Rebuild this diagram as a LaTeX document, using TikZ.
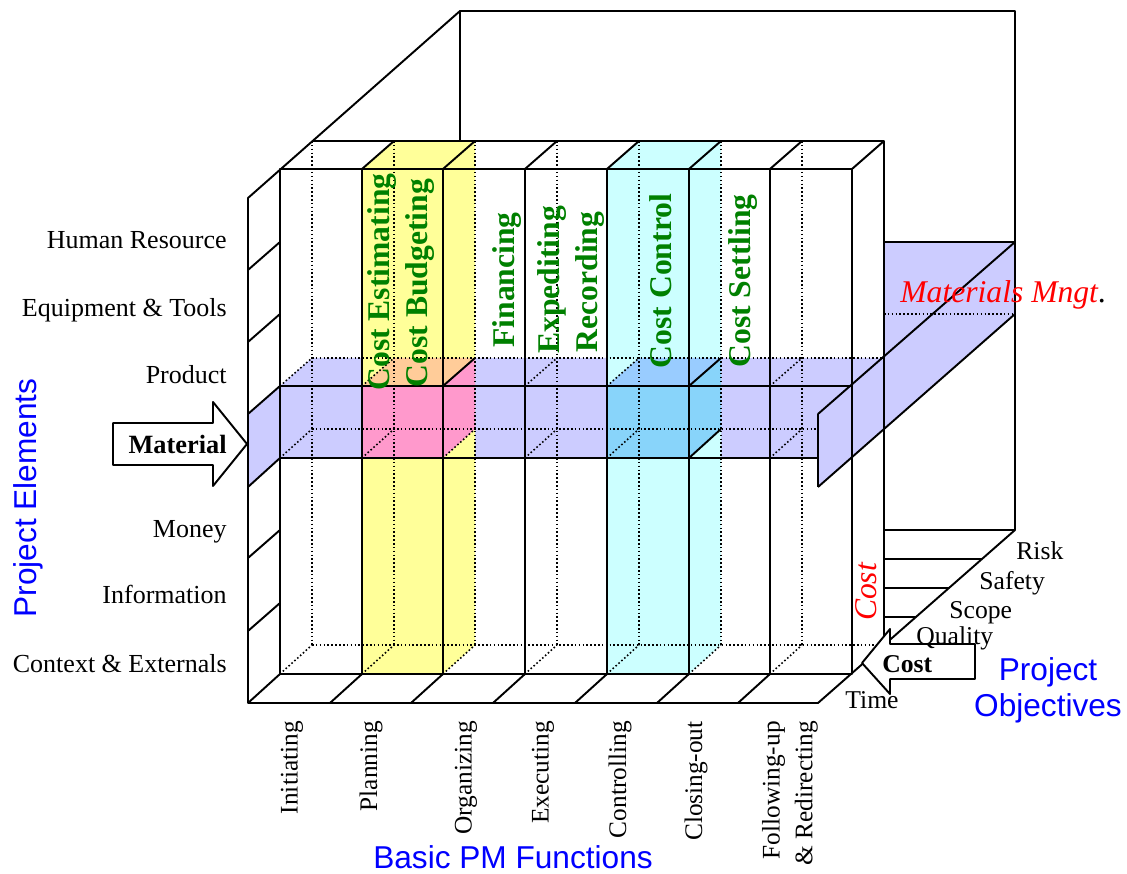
\documentclass[tikz,border=0pt]{standalone}
\usepackage{fontspec}
\setmainfont{Liberation Serif}
\newfontfamily\arialfont{Liberation Sans}
\usetikzlibrary{positioning}

\definecolor{bandlilac}{HTML}{CCCCFF}
\definecolor{planyellow}{HTML}{FFFF99}
\definecolor{ctrlcyan}{HTML}{CCFFFF}
\definecolor{hitpink}{HTML}{FF99CC}
\definecolor{hitpeach}{HTML}{FFCC99}
\definecolor{hitblue}{HTML}{88D4FA}
\definecolor{hittop}{HTML}{99CCFF}
\definecolor{pmgreen}{HTML}{008000}

\tikzset{
  boxline/.style={line width=1.1pt},
  hidden/.style={line width=0.9pt, dash pattern=on 0.9pt off 1.3pt},
  elem/.style={anchor=base east, inner sep=0pt, font=\fontsize{14.8}{17}\selectfont},
  func/.style={rotate=90, anchor=east, inner sep=0pt, font=\fontsize{14.4}{18.7}\selectfont},
  obj/.style={anchor=base west, inner sep=0pt, font=\fontsize{14.6}{17}\selectfont},
  task/.style={rotate=90, anchor=base, inner sep=0pt, text=pmgreen, font=\fontsize{18}{20}\selectfont\bfseries},
  axis/.style={text=blue, inner sep=0pt, font=\arialfont\fontsize{18}{20.5}\selectfont},
  bigarrow/.style={boxline, fill=white}
}

\begin{document}
\begin{tikzpicture}[x=0.02cm, y=-0.02cm, line join=round]
\useasboundingbox (0,0) rectangle (1127,874);

\fill[bandlilac] (280,386) -- (312,358) -- (884,358) -- (852,386) -- (852,458) -- (280,458) -- cycle;
\fill[bandlilac] (248,414) -- (280,386) -- (280,458) -- (248,487) -- cycle;
\fill[planyellow] (362,169) -- (394,141) -- (475,141) -- (475,645) -- (443,674) -- (362,674) -- cycle;
\fill[ctrlcyan] (607,169) -- (639,141) -- (721,141) -- (721,645) -- (689,674) -- (607,674) -- cycle;
\fill[hitpink] (362,386) rectangle (443,458);
\fill[hitpink] (443,386) -- (475,358) -- (475,429) -- (443,458) -- cycle;
\fill[hitpeach] (362,386) -- (394,358) -- (475,358) -- (443,386) -- cycle;
\fill[hitblue] (607,386) rectangle (689,458);
\fill[hitblue] (689,386) -- (721,358) -- (721,429) -- (689,458) -- cycle;
\fill[hittop] (607,386) -- (639,358) -- (721,358) -- (689,386) -- cycle;

\draw[hidden] (312,141) -- (312,645) (394,141) -- (394,645) (475,141) -- (475,645) (557,141) -- (557,645)
  (639,141) -- (639,645) (721,141) -- (721,645) (802,141) -- (802,645);
\draw[hidden] (312,358) -- (884,358) (312,429) -- (884,429) (312,645) -- (884,645);
\draw[hidden] (280,386) -- (312,358) (362,386) -- (394,358) (525,386) -- (557,358) (607,386) -- (639,358) (770,386) -- (802,358);
\draw[hidden] (280,458) -- (312,429) (362,458) -- (394,429) (443,458) -- (475,429) (525,458) -- (557,429)
  (607,458) -- (639,429) (770,458) -- (802,429);
\draw[hidden] (280,674) -- (312,645) (362,674) -- (394,645) (443,674) -- (475,645) (525,674) -- (557,645)
  (607,674) -- (639,645) (689,674) -- (721,645) (770,674) -- (802,645);

\fill[bandlilac] (884,242) -- (1015,242) -- (1015,314) -- (818,487) -- (818,414) -- (884,356) -- cycle;
\draw[hidden] (884,314) -- (1015,314);

\draw[boxline] (248,198) -- (460,11) -- (1015,11) -- (1015,530) -- (818,703) -- (248,703) -- cycle;
\draw[boxline] (460,11) -- (460,141) (312,141) -- (884,141) -- (884,645);
\draw[boxline] (280,169) rectangle (852,674);
\draw[boxline] (362,169) -- (362,674) (443,169) -- (443,674) (525,169) -- (525,674) (607,169) -- (607,674)
  (689,169) -- (689,674) (770,169) -- (770,674);
\draw[boxline] (280,386) -- (852,386) (280,458) -- (818,458);
\draw[boxline] (362,169) -- (394,141) (443,169) -- (475,141) (525,169) -- (557,141) (607,169) -- (639,141)
  (689,169) -- (721,141) (770,169) -- (802,141) (852,169) -- (884,141);
\draw[boxline] (248,270) -- (280,242) (248,342) -- (280,314) (248,414) -- (280,386) (248,487) -- (280,458)
  (248,558) -- (280,530) (248,631) -- (280,603) (248,703) -- (280,674);
\draw[boxline] (330,703) -- (362,674) (411,703) -- (443,674) (493,703) -- (525,674) (575,703) -- (607,674)
  (657,703) -- (689,674) (738,703) -- (770,674);
\draw[boxline] (443,386) -- (475,358) (689,386) -- (721,358) (689,458) -- (721,429);
\draw[boxline] (818,414) -- (1015,242) (818,487) -- (1015,314) (818,414) -- (818,487) (884,242) -- (1015,242);
\draw[boxline] (884,530) -- (1015,530) (884,559) -- (982,559) (884,588) -- (949,588) (884,617) -- (916,617);

\draw[bigarrow] (113,423) -- (213,423) -- (213,402) -- (247,444) -- (213,486) -- (213,465) -- (113,465) -- cycle;
\draw[bigarrow] (862,663) -- (890,629) -- (890,644) -- (975,644) -- (975,679) -- (890,679) -- (890,694) -- cycle;

\node[elem] (hr) at (227,249) {Human Resource};
\node[elem] (tools) at (227,317) {Equipment \& Tools};
\node[elem] (product) at (227,384) {Product};
\node[elem, font=\fontsize{15}{17}\selectfont\bfseries] (material) at (227,454) {Material};
\node[elem] (money) at (227,538) {Money};
\node[elem] (info) at (227,604) {Information};
\node[elem] (context) at (227,673) {Context \& Externals};

\node[func] (initiating) at (292,721) {Initiating};
\node[func] (planning) at (371,721) {Planning};
\node[func] (organizing) at (466,721) {Organizing};
\node[func] (executing) at (543,721) {Executing};
\node[func] (controlling) at (620,721) {Controlling};
\node[func] (closing) at (696,721) {Closing-out};
\node[func, align=right] (following) at (790,721) {Following-up\\\& Redirecting};

\node[task] (estimating) at (389,282) {Cost Estimating};
\node[task] (budgeting) at (427,283) {Cost Budgeting};
\node[task] (financing) at (514,280) {Financing};
\node[task] (expediting) at (559,280) {Expediting};
\node[task] (recording) at (597,282) {Recording};
\node[task] (costcontrol) at (671,281) {Cost Control};
\node[task] (settling) at (750,281) {Cost Settling};

\node[obj] (risk) at (1016,560) {Risk};
\node[obj] (safety) at (979,590) {Safety};
\node[obj] (scope) at (949,619) {Scope};
\node[obj] (quality) at (916,645) {Quality};
\node[obj, font=\fontsize{14.6}{17}\selectfont\bfseries] (costobj) at (882,673) {Cost};
\node[obj] (time) at (845,709) {Time};

\node[anchor=base west, inner sep=0pt, text=red, font=\fontsize{18}{20}\selectfont\itshape] (mngt) at (900,303)
  {Materials Mngt{\upshape\color{black}.}};
\node[rotate=90, anchor=base, inner sep=0pt, text=red, font=\fontsize{18}{20}\selectfont\itshape] (costaxis) at (876,592) {Cost};

\node[axis, rotate=90, anchor=base] (elements) at (36,498) {Project Elements};
\node[axis, anchor=base] (functions) at (513,869) {Basic PM Functions};
\node[axis, align=center] (objectives) at (1048,690) {Project\\Objectives};

\end{tikzpicture}
\end{document}
